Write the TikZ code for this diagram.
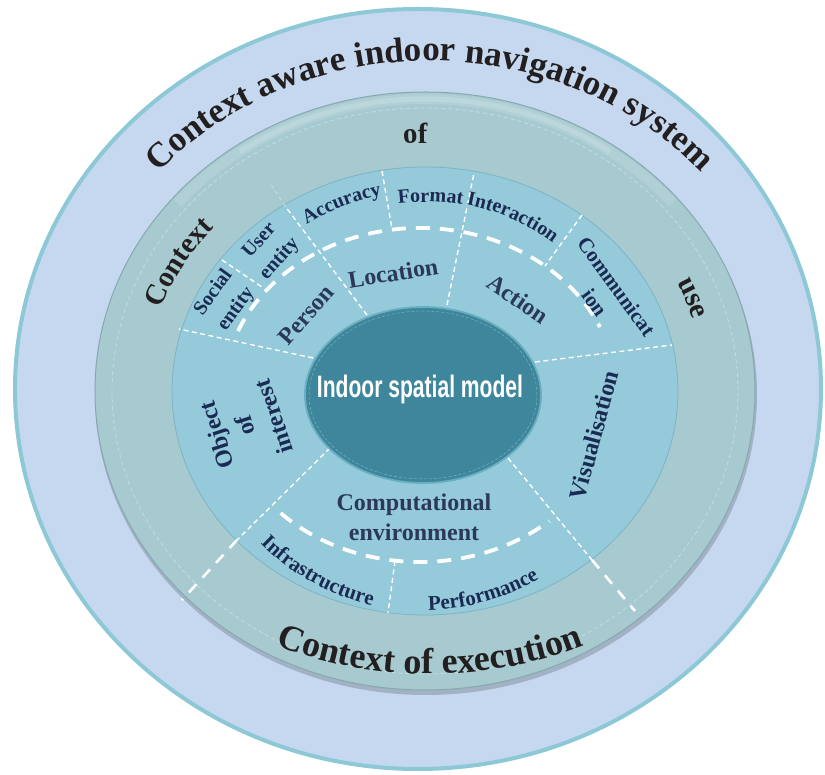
\documentclass[tikz,border=0pt]{standalone}
\usepackage{fontspec}
\setmainfont{Liberation Serif}
\newfontfamily\ismfont[FakeStretch=0.68]{Liberation Sans}
\usetikzlibrary{decorations.text,shapes.geometric}
\definecolor{outerfill}{HTML}{C6D8EF}
\definecolor{outerline}{HTML}{8DC8D6}
\definecolor{ringfill}{HTML}{A6CAD0}
\definecolor{ringedge}{HTML}{86A8B0}
\definecolor{discfill}{HTML}{95CADB}
\definecolor{discedge}{HTML}{7DB3C3}
\definecolor{corefill}{HTML}{3D869B}
\definecolor{coreedge}{HTML}{6AAEC1}
\definecolor{navy}{HTML}{1B2A52}
\definecolor{slate}{HTML}{2C3859}
\definecolor{ink}{HTML}{231F20}
\tikzset{
  thindash/.style={white, line width=1.4pt, dash pattern=on 5pt off 3.5pt},
  thickdash/.style={white, line width=3.8pt, dash pattern=on 14pt off 10pt},
  ringdash/.style={white, line width=2.6pt, dash pattern=on 11pt off 9pt},
  seglabel/.style={text=navy, font=\bfseries\fontsize{20}{27}\selectfont, align=center, inner sep=0pt},
  midlabel/.style={text=slate, font=\bfseries\fontsize{24}{30}\selectfont, align=center, inner sep=0pt},
}
% clockwise text (reads left to right over the top)
\newcommand\cwtext[7]{%
  \pgfmathsetmacro\sA{#4+#5}\pgfmathsetmacro\eA{#4-#5}%
  \path[shift={#1},decorate,decoration={text along path,text align=center,text color=#6,text={#7}}]
    (\sA:#2 and #3) arc[start angle=\sA,end angle=\eA,x radius=#2,y radius=#3];}
% counter-clockwise text (reads left to right along the bottom)
\newcommand\ccwtext[7]{%
  \pgfmathsetmacro\sA{#4-#5}\pgfmathsetmacro\eA{#4+#5}%
  \path[shift={#1},decorate,decoration={text along path,text align=center,text color=#6,text={#7}}]
    (\sA:#2 and #3) arc[start angle=\sA,end angle=\eA,x radius=#2,y radius=#3];}
\begin{document}
\begin{tikzpicture}[x=1pt,y=1pt]
\useasboundingbox (-425,-384) rectangle (400,391);
\fill[white] (-425,-384) rectangle (400,391);
% outer band
\path[fill=outerfill, draw=outerline, line width=4pt] (-7,2) ellipse [x radius=403pt, y radius=380pt];
% middle ring with shadow
\fill[black, opacity=0.18] (1,-4) ellipse [x radius=331pt, y radius=300pt];
\fill[ringfill] (0,0) ellipse [x radius=330pt, y radius=299pt];
\draw[white, opacity=0.12, line width=10pt] (40:323pt and 292pt) arc[start angle=40,end angle=140,x radius=323pt,y radius=292pt];
\draw[white, opacity=0.15, line width=5pt] (55:323pt and 292pt) arc[start angle=55,end angle=125,x radius=323pt,y radius=292pt];
\draw[ringedge, line width=1pt] (0,0) ellipse [x radius=330pt, y radius=299pt];
\draw[white, opacity=0.35, line width=0.8pt, dash pattern=on 4pt off 3pt] (0,0) ellipse [x radius=313pt, y radius=283pt];
% inner disc
\fill[discfill] (0,0) ellipse [x radius=253pt, y radius=224pt];
\draw[discedge, line width=0.8pt] (0,0) ellipse [x radius=253pt, y radius=224pt];
% thick dashed arcs
\draw[thickdash] (-5,-4) ++(157.5:197pt and 167pt) arc[start angle=157.5, end angle=24, x radius=197pt, y radius=167pt];
\draw[thickdash] (-5,-4) ++(225:197pt and 167pt) arc[start angle=225, end angle=311, x radius=197pt, y radius=167pt];
% divider coordinates
\coordinate (l1a) at (-58,76);   \coordinate (l1b) at (-140,185); \coordinate (l1c) at (-155,208);
\coordinate (l2a) at (22,86);    \coordinate (l2b) at (49,218);
\coordinate (l3a) at (-43,220);  \coordinate (l3b) at (-33,162);
\coordinate (l4a) at (157,176);  \coordinate (l4b) at (120,125);
\coordinate (l5a) at (110,29);   \coordinate (l5b) at (247,46);
\coordinate (l6a) at (-112,33);  \coordinate (l6b) at (-246,62);
\coordinate (l7a) at (-203,131); \coordinate (l7b) at (-163,104);
\coordinate (l8a) at (-95,-57);  \coordinate (l8b) at (-188,-149); \coordinate (l8c) at (-243,-209);
\coordinate (l9a) at (83,-67);   \coordinate (l9b) at (167,-169);  \coordinate (l9c) at (210,-220);
\coordinate (l10a) at (-30,-170); \coordinate (l10b) at (-37,-222);
\draw[thindash] (l1a) -- (l1b);
\draw[white, opacity=0.4, line width=0.8pt, dash pattern=on 4pt off 3pt] (l1b) -- (l1c);
\draw[thindash] (l2a) -- (l2b);
\draw[thindash] (l3a) -- (l3b);
\draw[thindash] (l4a) -- (l4b);
\draw[thindash] (l5a) -- (l5b);
\draw[thindash] (l6a) -- (l6b);
\draw[thindash] (l7a) -- (l7b);
\draw[thindash] (l8a) -- (l8b);
\draw[ringdash] (l8b) -- (l8c);
\draw[thindash] (l9a) -- (l9b);
\draw[ringdash] (l9b) -- (l9c);
\draw[thindash] (l10a) -- (l10b);
% core ellipse
\node[ellipse, minimum width=236pt, minimum height=176pt, fill=corefill, draw=coreedge, line width=1.8pt] (core) at (-2,-4) {};
\draw[white, opacity=0.35, line width=0.5pt, dash pattern=on 3pt off 2pt] (-2,-4) ellipse [x radius=114pt, y radius=84pt];
\node[text=white, font=\ismfont\bfseries\fontsize{31}{36}\selectfont, inner sep=0pt] (ism) at (-5,2) {Indoor spatial model};
% outer texts
\cwtext{(5,0)}{362pt}{330pt}{90}{70}{ink}{|\bfseries\fontsize{35}{42}\selectfont|Context aware indoor navigation system}
\ccwtext{(5,0)}{350pt}{283pt}{270}{50}{ink}{|\bfseries\fontsize{36}{44}\selectfont|Context of execution}
\cwtext{(0,0)}{280pt}{248pt}{150.4}{30}{ink}{|\bfseries\fontsize{29}{35}\selectfont|Context}
\cwtext{(0,0)}{280pt}{248pt}{92}{20}{ink}{|\bfseries\fontsize{29}{35}\selectfont|of}
\cwtext{(0,0)}{280pt}{248pt}{20.8}{25}{ink}{|\bfseries\fontsize{29}{35}\selectfont|use}
% segment texts
\cwtext{(0,0)}{213pt}{200pt}{113}{30}{navy}{|\bfseries\fontsize{20}{24}\selectfont|Accuracy}
\cwtext{(0,0)}{213pt}{189pt}{88.5}{25}{navy}{|\bfseries\fontsize{20}{24}\selectfont|Format}
\cwtext{(0,0)}{203.6pt}{190.3pt}{64.4}{30}{navy}{|\bfseries\fontsize{20}{24}\selectfont|Interaction}
\ccwtext{(0,0)}{227.7pt}{220.5pt}{240}{30}{navy}{|\bfseries\fontsize{21}{24}\selectfont|Infrastructure}
\ccwtext{(0,0)}{221pt}{219pt}{286}{30}{navy}{|\bfseries\fontsize{21}{24}\selectfont|Performance}
\node[seglabel, rotate=-54, font=\bfseries\fontsize{21}{27}\selectfont] (comm) at (180.5,96.5) {Communicat\\ion};
\node[seglabel, rotate=54, font=\bfseries\fontsize{20}{28}\selectfont] (soc) at (-200,90) {Social\\entity};
\node[seglabel, rotate=48] (usr) at (-155,141) {User\\entity};
\node[midlabel, rotate=9] (loc) at (-32,118) {Location};
\node[midlabel, rotate=-34] (act) at (93,92) {Action};
\node[midlabel, rotate=49] (per) at (-119,76) {Person};
\node[midlabel, rotate=75, text=navy] (vis) at (169,-44) {Visualisation};
\node[midlabel, rotate=108, text=navy] (obj) at (-180,-35) {Object\\of\\interest};
\node[midlabel] (comp) at (-11,-126) {Computational\\environment};
\end{tikzpicture}
\end{document}
